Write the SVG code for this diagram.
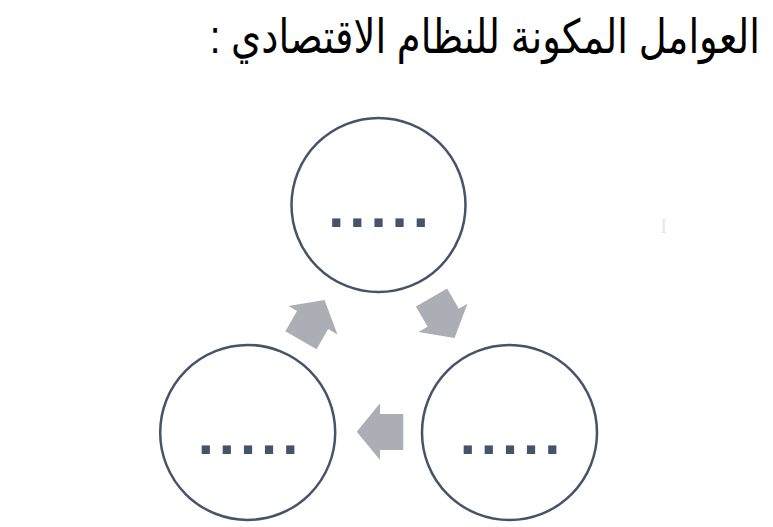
<svg xmlns="http://www.w3.org/2000/svg" width="773" height="527" viewBox="0 0 773 527">
<style>
.title{font-family:"Liberation Sans","DejaVu Sans",sans-serif;font-size:38.5px;fill:#000}
.node circle{fill:#fff;stroke:#44546a;stroke-width:2.5}
.dots{font-family:"Liberation Sans",Arial,sans-serif;font-weight:bold;font-size:58px;fill:#44546a;letter-spacing:5px}
.arrow{fill:#abaeb5}
</style>
<defs>
<polygon id="arr" points="403.3,414 380,414 380,403.3 356.7,431.7 380,460 380,450 403.3,450"/>
</defs>
<rect width="773" height="527" fill="#fff"/>
<text class="title" x="0" y="0" transform="translate(760 53) scale(1 1.22)" direction="rtl" text-anchor="start">العوامل المكونة للنظام الاقتصادي :</text>
<text x="660" y="233" font-family="Liberation Serif,serif" font-size="22" fill="#e8e8e8">I</text>
<g id="connectors">
<use href="#arr" class="arrow"/>
<use href="#arr" class="arrow" transform="rotate(120 378.6 356.6)"/>
<use href="#arr" class="arrow" transform="rotate(-120 378.6 356.6)"/>
</g>
<g id="node-top" class="node">
<circle cx="378.5" cy="205" r="87"/>
<text class="dots" x="381" y="227" text-anchor="middle">.....</text>
</g>
<g id="node-left" class="node">
<circle cx="247.7" cy="432.4" r="87.5"/>
<text class="dots" x="250.5" y="454" text-anchor="middle">.....</text>
</g>
<g id="node-right" class="node">
<circle cx="509.5" cy="432.5" r="87.5"/>
<text class="dots" x="512.5" y="453.5" text-anchor="middle">.....</text>
</g>
</svg>
